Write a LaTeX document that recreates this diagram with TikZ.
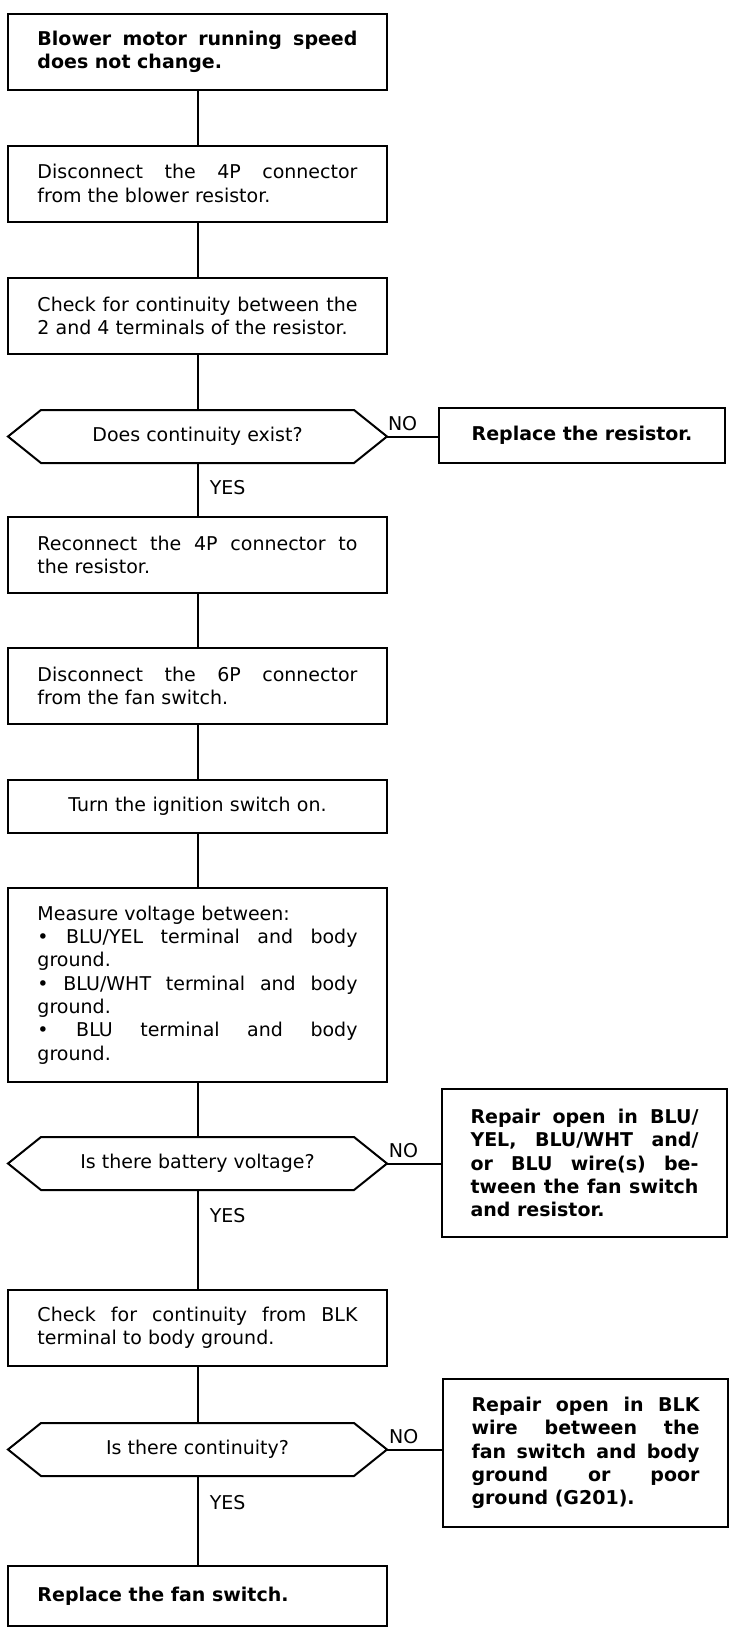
\documentclass[tikz,border=0pt]{standalone}
\usepackage{fontspec}
\setmainfont{DejaVu Sans}
\tolerance=10000
\hbadness=10000
\hyphenpenalty=10000

\begin{document}
\begin{tikzpicture}[x=1pt,y=-1pt,line width=2pt,outer sep=0pt,
	box/.style={draw,minimum width=379pt,minimum height=76pt,text width=320pt,
		inner xsep=29.5pt,inner ysep=0pt,align=justify,font=\fontsize{19}{23.3}\selectfont},
	title/.style={box,font=\fontsize{19}{23.3}\selectfont\bfseries},
	decision/.style={minimum width=379pt,minimum height=53pt,inner sep=0pt,
		align=center,font=\fontsize{19}{23.3}\selectfont},
	fixbox/.style={draw,minimum width=286pt,minimum height=55pt,align=center,
		font=\fontsize{19}{23.3}\selectfont\bfseries},
	repair/.style={draw,text width=228pt,inner xsep=28.5pt,inner ysep=0pt,
		minimum height=148pt,align=justify,font=\fontsize{19}{23.3}\selectfont\bfseries},
	no/.style={above,pos=.3,inner sep=6pt,font=\fontsize{19}{23.3}\selectfont},
	yes/.style={right,xshift=9pt,font=\fontsize{19}{23.3}\selectfont}]
	\useasboundingbox (0,0) rectangle (731,1634);
	
	\node[title] (b1) at (197.5,51.5) {Blower motor running speed\linebreak does not change.};
	\node[box] (b2) at (197.5,183.5) {Disconnect the 4P connector\linebreak from the blower resistor.};
	\node[box] (b3) at (197.5,316) {Check for continuity between the\linebreak 2 and 4 terminals of the resistor.};
	\node[decision] (q1) at (197.5,436.5) {Does continuity exist?};
	\node[fixbox] (r1) at (582,435.5) {Replace the resistor.};
	\node[box] (b4) at (197.5,555) {Reconnect the 4P connector to\linebreak the resistor.};
	\node[box] (b5) at (197.5,686) {Disconnect the 6P connector\linebreak from the fan switch.};
	\node[box,minimum height=53pt,align=center] (b6) at (197.5,806.5) {Turn the ignition switch on.};
	\node[box,minimum height=194pt] (b7) at (197.5,985) {Measure voltage between:\\
		• BLU/YEL terminal and body\linebreak ground.\\
		• BLU/WHT terminal and body\linebreak ground.\\
		• BLU terminal and body\linebreak ground.};
	\node[decision] (q2) at (197.5,1163.5) {Is there battery voltage?};
	\node[repair] (r2) at (584.5,1163) {Repair open in BLU/\linebreak YEL, BLU/WHT and/\linebreak
		or BLU wire(s) be-\linebreak tween the fan switch\linebreak and resistor.};
	\node[box] (b8) at (197.5,1328) {Check for continuity from BLK\linebreak terminal to body ground.};
	\node[decision] (q3) at (197.5,1449.5) {Is there continuity?};
	\node[repair] (r3) at (585.5,1453) {Repair open in BLK\linebreak wire between the\linebreak
		fan switch and body\linebreak ground or poor\linebreak ground (G201).};
	\node[title,minimum height=60pt] (b9) at (197.5,1596) {Replace the fan switch.};
	
	\foreach \q in {q1,q2,q3}
		\draw (\q.west) -- ([xshift=33pt]\q.north west) -- ([xshift=-33pt]\q.north east)
			-- (\q.east) -- ([xshift=-33pt]\q.south east) -- ([xshift=33pt]\q.south west) -- cycle;
	
	\foreach \a/\b in {b1/b2,b2/b3,b3/q1,b4/b5,b5/b6,b6/b7,b7/q2,b8/q3}
		\draw (\a.south) -- (\b.north);
	
	\draw (q1.east) -- node[no]{NO} (q1.east -| r1.west);
	\draw (q2.east) -- node[no]{NO} (q2.east -| r2.west);
	\draw (q3.east) -- node[no]{NO} (q3.east -| r3.west);
	\draw (q1.south) -- node[yes,pos=.46]{YES} (b4.north);
	\draw (q2.south) -- node[yes,pos=.26]{YES} (b8.north);
	\draw (q3.south) -- node[yes,pos=.29]{YES} (b9.north);
\end{tikzpicture}
\end{document}
